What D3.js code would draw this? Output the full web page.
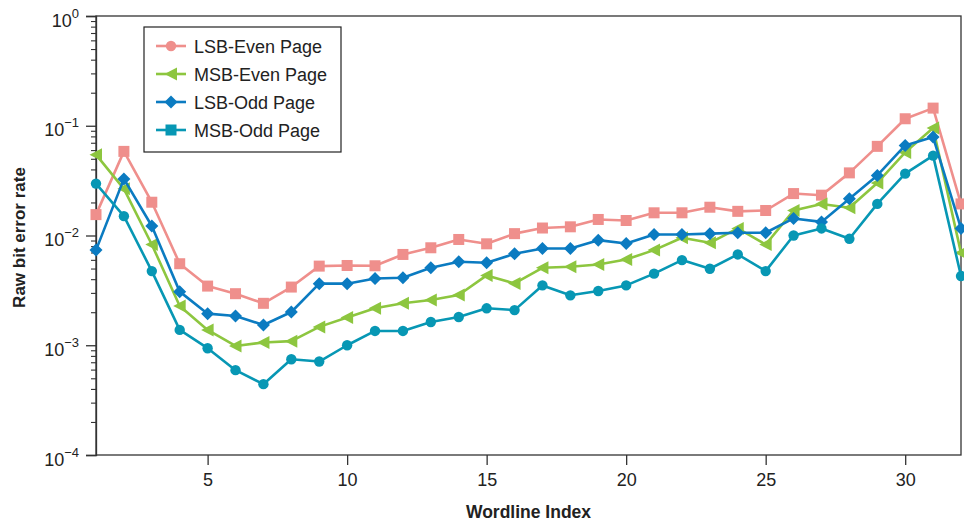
<!DOCTYPE html>
<html>
<head>
<meta charset="utf-8">
<script src="https://cdn.jsdelivr.net/npm/d3@7"></script>
<style>
  html, body { margin: 0; padding: 0; background: #fff; }
  svg { display: block; font-family: "Liberation Sans", Arial, Helvetica, sans-serif; }
</style>
</head>
<body>
<svg id="chart" width="964" height="521"></svg>
<script>
// Wordline indices 1..32
const wordlines = d3.range(1, 33);

// Raw bit error rate per wordline
const lsbEven = [0.0155, 0.0584, 0.0201, 0.00553, 0.00346, 0.00295, 0.00241, 0.00339, 0.00526, 0.00533,
  0.0053, 0.00672, 0.00773, 0.0092, 0.0084, 0.0104, 0.0117, 0.012, 0.014, 0.0137,
  0.0161, 0.0161, 0.0181, 0.0166, 0.0169, 0.0241, 0.0233, 0.0372, 0.0649, 0.1158,
  0.1448, 0.0194];
const msbEven = [0.0545, 0.0266, 0.00828, 0.00228, 0.00138, 0.000986, 0.00106, 0.00109, 0.00147, 0.00179,
  0.00217, 0.00241, 0.00258, 0.00287, 0.00433, 0.00366, 0.00508, 0.00519, 0.00545, 0.00605,
  0.00736, 0.00953, 0.00858, 0.01159, 0.00828, 0.01687, 0.0194, 0.0179, 0.0301, 0.0572,
  0.0953, 0.00695];
const lsbOdd = [0.00736, 0.0328, 0.0122, 0.00308, 0.00194, 0.00185, 0.00153, 0.00201, 0.00364, 0.00364,
  0.00406, 0.00412, 0.00508, 0.00577, 0.00565, 0.00681, 0.00762, 0.00762, 0.00907, 0.00846,
  0.0102, 0.0102, 0.0104, 0.0106, 0.0106, 0.0143, 0.0133, 0.0216, 0.0353, 0.0662,
  0.0789, 0.0116];
const msbOdd = [0.0297, 0.015, 0.00474, 0.00138, 0.00094, 0.000593, 0.000442, 0.000746, 0.000711, 0.001,
  0.00135, 0.00135, 0.00163, 0.00181, 0.00217, 0.00209, 0.00351, 0.00285, 0.00312, 0.00351,
  0.00449, 0.00597, 0.00498, 0.00672, 0.00474, 0.01, 0.0116, 0.00933, 0.0194, 0.0366,
  0.0534, 0.00427];

const seriesNames = ["LSB-Even Page", "MSB-Even Page", "LSB-Odd Page", "MSB-Odd Page"];
const seriesValues = [lsbEven, msbEven, lsbOdd, msbOdd];
const seriesColors = ["#ef8f8c", "#8dc63f", "#0b7bc1", "#0797b4"];
// symbols drawn on the lines, and the symbols shown in the legend
const lineMarkers = ["square", "triangleLeft", "diamond", "circle"];
const legendMarkers = ["circle", "triangleLeft", "diamond", "square"];

const xTicks = [5, 10, 15, 20, 25, 30];
const yMajorTicks = [1e-4, 1e-3, 1e-2, 1e-1, 1];
const yExponents = ["\u22124", "\u22123", "\u22122", "\u22121", "0"];

const svg = d3.select("#chart");
const margin = { left: 96, right: 961, top: 16, bottom: 455 };

const x = d3.scaleLinear().domain([1, 32]).range([margin.left, margin.right]);
const y = d3.scaleLog().domain([1e-4, 1]).range([margin.bottom, margin.top]);

// marker shapes
function marker(sel, kind, color) {
  if (kind === "circle") {
    sel.append("circle").attr("r", 5.2).attr("fill", color);
  } else if (kind === "square") {
    sel.append("rect").attr("x", -5.5).attr("y", -5.5).attr("width", 11).attr("height", 11).attr("fill", color);
  } else if (kind === "diamond") {
    sel.append("path").attr("d", "M0,-6.5L6.5,0L0,6.5L-6.5,0Z").attr("fill", color);
  } else if (kind === "triangleLeft") {
    sel.append("path").attr("d", "M-6.5,0L6,-6.5L6,6.5Z").attr("fill", color);
  }
}

// plot frame
svg.append("rect")
  .attr("x", margin.left).attr("y", margin.top)
  .attr("width", margin.right - margin.left).attr("height", margin.bottom - margin.top)
  .attr("fill", "none").attr("stroke", "#333").attr("stroke-width", 1.3);

// y axis: major ticks with power-of-ten labels
const yAxis = svg.append("g")
  .attr("transform", `translate(${margin.left},0)`)
  .call(d3.axisLeft(y).tickValues(yMajorTicks).tickSize(10).tickFormat(""));
yAxis.select(".domain").attr("stroke", "#333").attr("stroke-width", 1.3);
yAxis.selectAll(".tick line").attr("stroke", "#333").attr("stroke-width", 1.3);

// y axis minor ticks
const yMinor = [];
for (let e = -4; e < 0; e++) for (let m = 2; m <= 9; m++) yMinor.push(m * Math.pow(10, e));
const yMinorAxis = svg.append("g")
  .attr("transform", `translate(${margin.left},0)`)
  .call(d3.axisLeft(y).tickValues(yMinor).tickSize(5).tickFormat(""));
yMinorAxis.select(".domain").remove();
yMinorAxis.selectAll(".tick line").attr("stroke", "#333").attr("stroke-width", 1.1);

// tick labels 10^n
yMajorTicks.forEach((v, i) => {
  const t = svg.append("text")
    .attr("x", 79).attr("y", y(v) + 10.5)
    .attr("text-anchor", "end")
    .attr("fill", "#222")
    .style("font-size", "18px");
  t.append("tspan").text("10");
  t.append("tspan").attr("dy", -9).style("font-size", "13px").text(yExponents[i]);
});

// x axis
const xAxis = svg.append("g")
  .attr("transform", `translate(0,${margin.bottom})`)
  .call(d3.axisBottom(x).tickValues(xTicks).tickSize(10).tickPadding(8));
xAxis.select(".domain").remove();
xAxis.selectAll(".tick line").attr("stroke", "#333").attr("stroke-width", 1.3);
xAxis.selectAll(".tick text").attr("fill", "#222")
  .style("font-size", "18px").style("font-family", "'Liberation Sans', Arial, sans-serif");

// axis titles
svg.append("text")
  .attr("x", (margin.left + margin.right) / 2).attr("y", 518)
  .attr("text-anchor", "middle").attr("fill", "#222")
  .style("font-size", "17.5px").style("font-weight", "bold")
  .text("Wordline Index");
svg.append("text")
  .attr("transform", `translate(25,${(margin.top + margin.bottom) / 2 + 2}) rotate(-90)`)
  .attr("text-anchor", "middle").attr("fill", "#222")
  .style("font-size", "17px").style("font-weight", "bold")
  .text("Raw bit error rate");

// series lines and markers
const line = d3.line().x((d, i) => x(wordlines[i])).y(d => y(d));
seriesValues.forEach((vals, s) => {
  const g = svg.append("g");
  g.append("path").datum(vals)
    .attr("d", line)
    .attr("fill", "none")
    .attr("stroke", seriesColors[s])
    .attr("stroke-width", 2.6)
    .attr("stroke-linejoin", "round");
  vals.forEach((v, i) => {
    const m = g.append("g").attr("transform", `translate(${x(wordlines[i])},${y(v)})`);
    marker(m, lineMarkers[s], seriesColors[s]);
  });
});

// legend
const legend = svg.append("g");
legend.append("rect")
  .attr("x", 144).attr("y", 27).attr("width", 197).attr("height", 125)
  .attr("fill", "#fff").attr("stroke", "#222").attr("stroke-width", 1.2);
seriesNames.forEach((name, s) => {
  const cy = 46 + s * 28;
  legend.append("line")
    .attr("x1", 156).attr("x2", 186).attr("y1", cy).attr("y2", cy)
    .attr("stroke", seriesColors[s]).attr("stroke-width", 2.6);
  const m = legend.append("g").attr("transform", `translate(171,${cy})`);
  marker(m, legendMarkers[s], seriesColors[s]);
  legend.append("text")
    .attr("x", 194).attr("y", cy + 6.5)
    .attr("fill", "#222")
    .style("font-size", "18px")
    .text(name);
});
</script>
</body>
</html>
